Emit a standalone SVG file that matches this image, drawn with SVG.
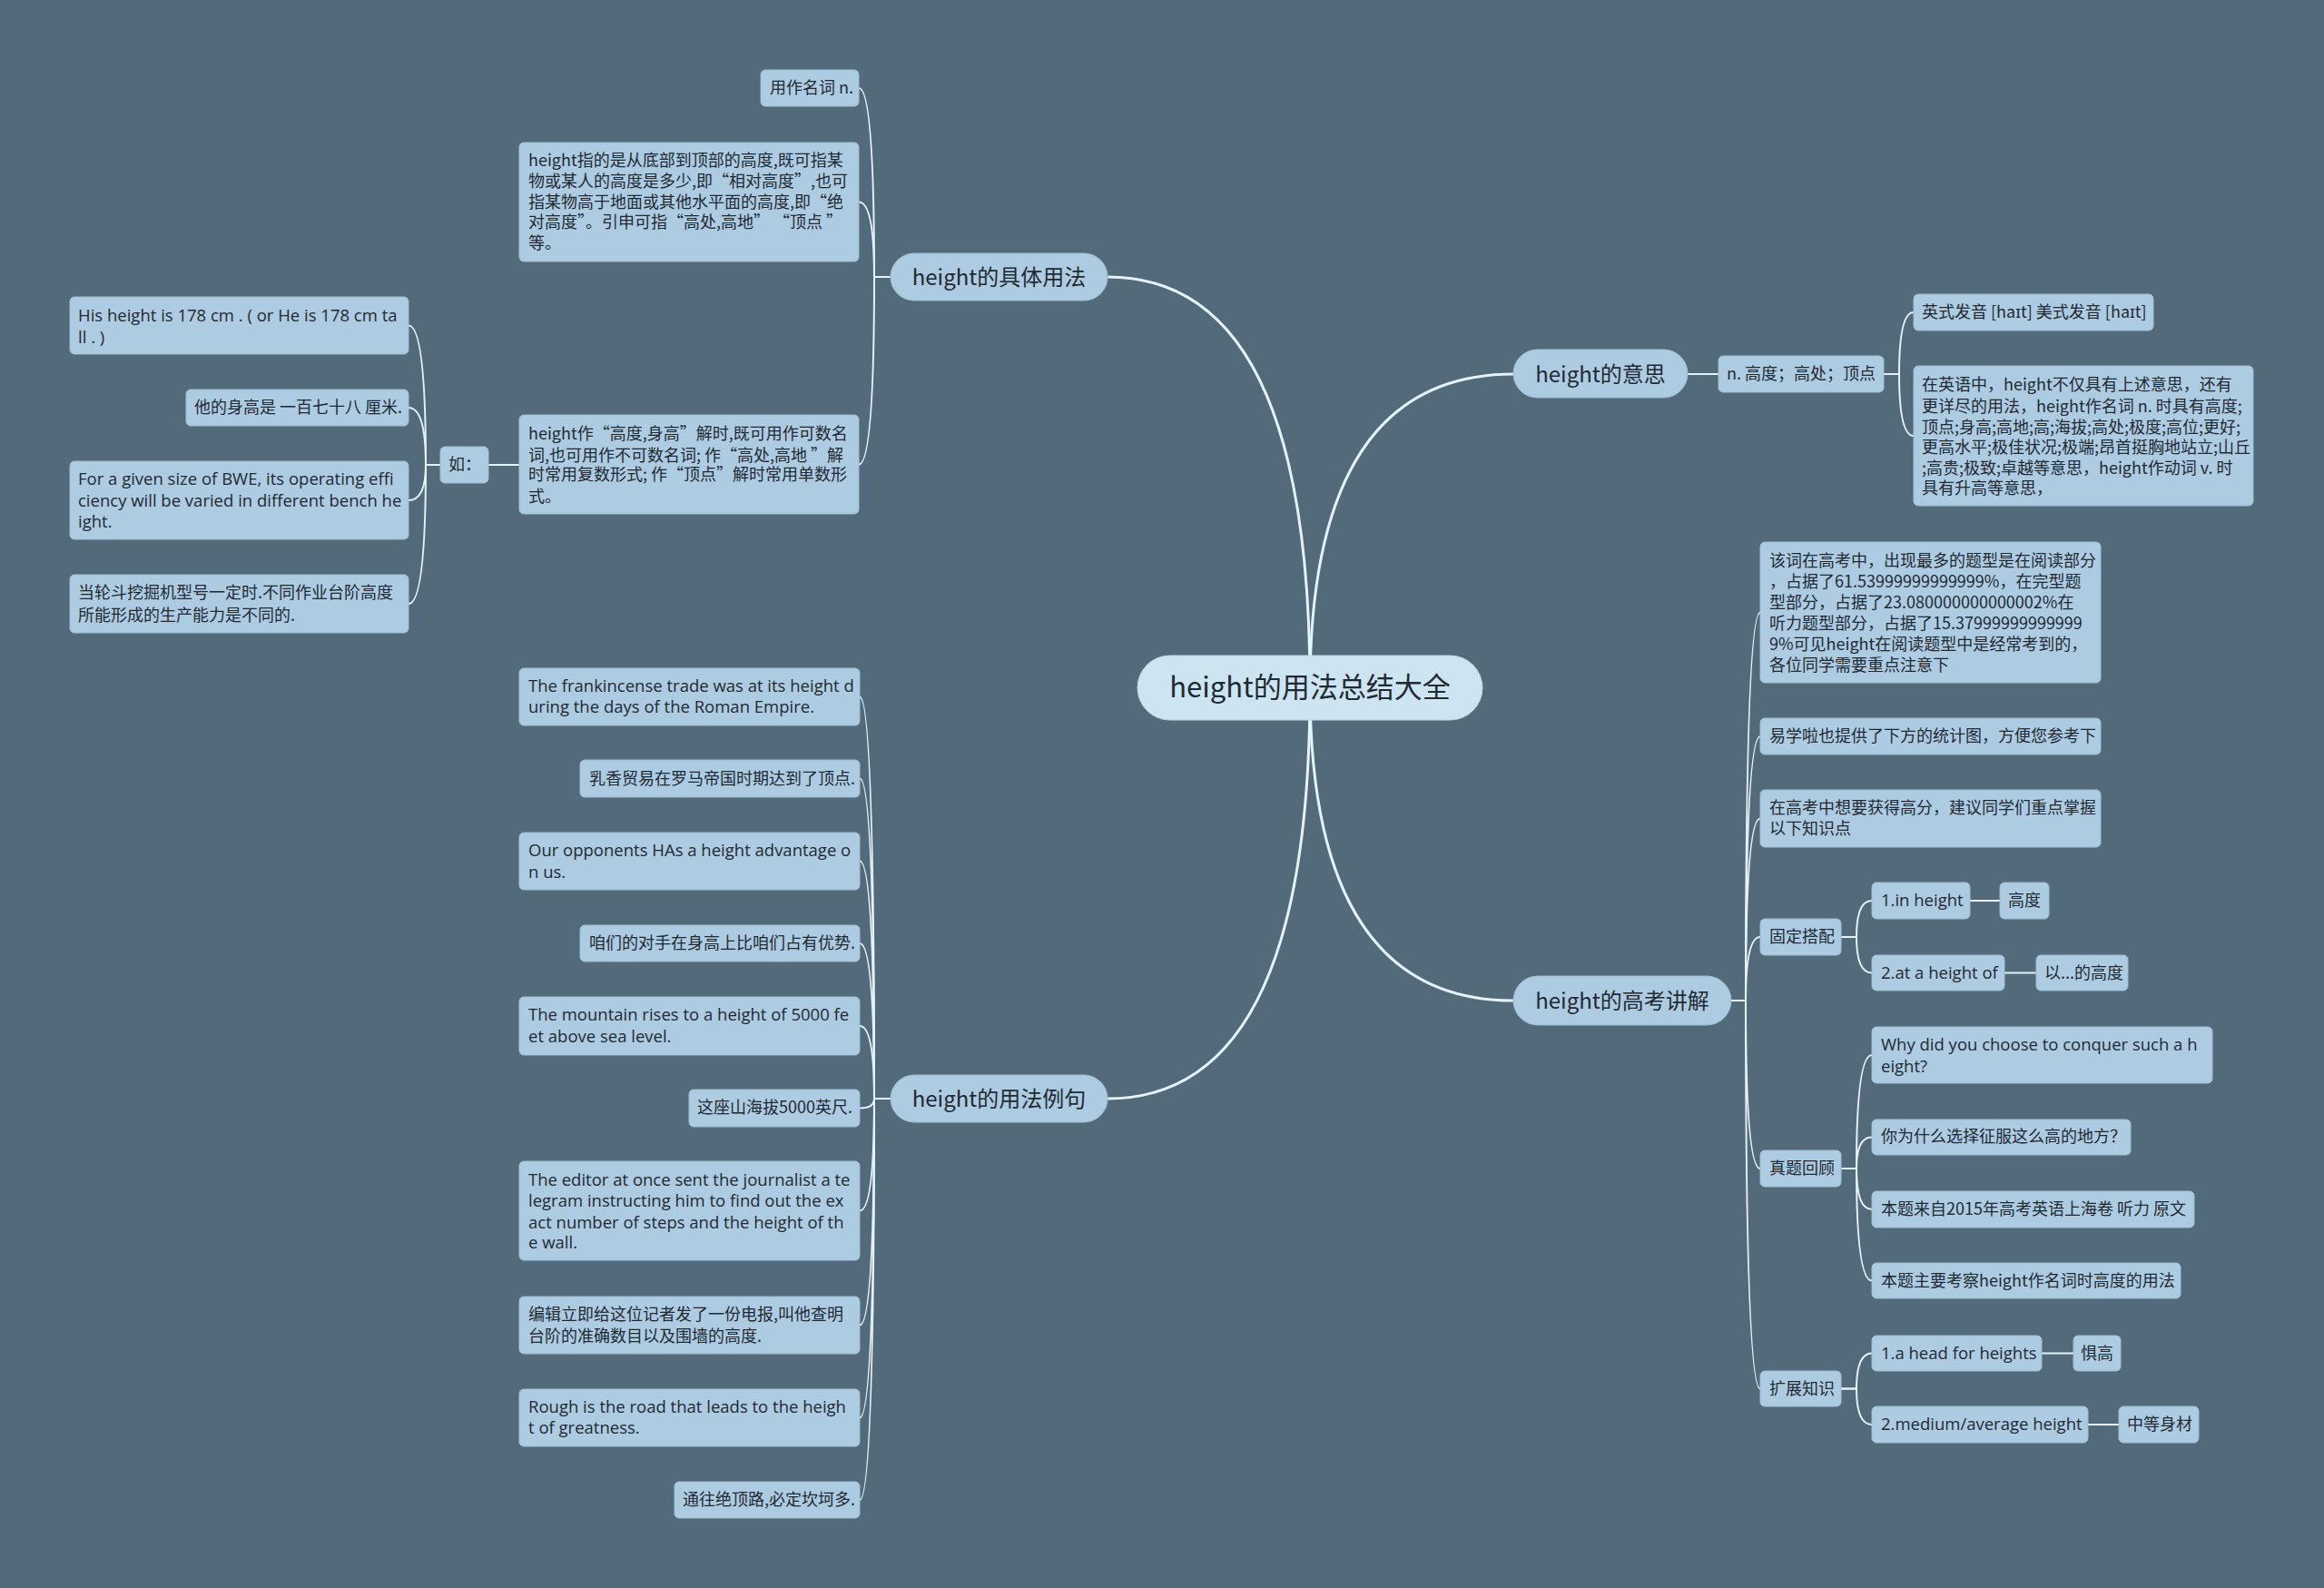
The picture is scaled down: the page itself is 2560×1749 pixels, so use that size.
<svg xmlns="http://www.w3.org/2000/svg" width="2560" height="1749" viewBox="0 0 2560 1749">
<style>
.bg{fill:#536a7a}
.n rect{fill:#adcbe1;stroke:#9fbdd3;stroke-width:1}
.br rect{fill:#adcbe1;stroke:#9fbdd3;stroke-width:1}
.rt rect{fill:#cde4f1;stroke:#bcd6e6;stroke-width:1}
text{font-family:"Noto Sans CJK SC","Noto Sans",sans-serif;fill:#1f2a33}
.n text{font-size:18px}
.n text.l{font-family:"Open Sans","Noto Sans CJK SC",sans-serif;font-size:18.5px}
.br text{font-size:24px;text-anchor:middle}
.rt text{font-size:31px;text-anchor:middle}
.c{fill:none;stroke:#e4f2fa;stroke-width:2}
.m{fill:none;stroke:#e4f2fa;stroke-width:3}
</style>
<rect class="bg" x="0" y="0" width="2560" height="1749"/>
<g id="connectors">
<path class="m" d="M1443 757 Q1443 305 1220 305"/>
<path class="m" d="M1443 757 Q1443 1210 1220 1210"/>
<path class="m" d="M1443 757 Q1443 412 1667 412"/>
<path class="m" d="M1443 757 Q1443 1102 1667 1102"/>
<path class="c" d="M981 305 L963 305 Q963 97 946 97"/>
<path class="c" d="M981 305 L963 305 Q963 222.5 946 222.5"/>
<path class="c" d="M981 305 L963 305 Q963 511.5 946 511.5"/>
<path class="c" d="M572 512 L538 512"/>
<path class="c" d="M485 512 L469 512 Q469 358.5 450 358.5"/>
<path class="c" d="M485 512 L469 512 Q469 449 450 449"/>
<path class="c" d="M485 512 L469 512 Q469 551 450 551"/>
<path class="c" d="M485 512 L469 512 Q469 665 450 665"/>
<path class="c" d="M981 1210 L963 1210 Q963 767.5 947 767.5"/>
<path class="c" d="M981 1210 L963 1210 Q963 857.5 947 857.5"/>
<path class="c" d="M981 1210 L963 1210 Q963 948.5 947 948.5"/>
<path class="c" d="M981 1210 L963 1210 Q963 1039 947 1039"/>
<path class="c" d="M981 1210 L963 1210 Q963 1130 947 1130"/>
<path class="c" d="M981 1210 L963 1210 Q963 1220.5 947 1220.5"/>
<path class="c" d="M981 1210 L963 1210 Q963 1333.5 947 1333.5"/>
<path class="c" d="M981 1210 L963 1210 Q963 1459.5 947 1459.5"/>
<path class="c" d="M981 1210 L963 1210 Q963 1561.5 947 1561.5"/>
<path class="c" d="M981 1210 L963 1210 Q963 1652 947 1652"/>
<path class="c" d="M1859 412 L1893 412"/>
<path class="c" d="M2075 412 L2092 412 Q2092 344 2108 344"/>
<path class="c" d="M2075 412 L2092 412 Q2092 480 2108 480"/>
<path class="c" d="M1907 1102 L1923 1102 Q1923 674.5 1939 674.5"/>
<path class="c" d="M1907 1102 L1923 1102 Q1923 811 1939 811"/>
<path class="c" d="M1907 1102 L1923 1102 Q1923 901.5 1939 901.5"/>
<path class="c" d="M1907 1102 L1923 1102 Q1923 1032 1939 1032"/>
<path class="c" d="M1907 1102 L1923 1102 Q1923 1287 1939 1287"/>
<path class="c" d="M1907 1102 L1923 1102 Q1923 1529.5 1939 1529.5"/>
<path class="c" d="M2028 1032 L2045 1032 Q2045 992 2062 992"/>
<path class="c" d="M2028 1032 L2045 1032 Q2045 1071.5 2062 1071.5"/>
<path class="c" d="M2028 1287 L2045 1287 Q2045 1162 2062 1162"/>
<path class="c" d="M2028 1287 L2045 1287 Q2045 1252.5 2062 1252.5"/>
<path class="c" d="M2028 1287 L2045 1287 Q2045 1332 2062 1332"/>
<path class="c" d="M2028 1287 L2045 1287 Q2045 1410.5 2062 1410.5"/>
<path class="c" d="M2028 1529.5 L2045 1529.5 Q2045 1490.5 2062 1490.5"/>
<path class="c" d="M2028 1529.5 L2045 1529.5 Q2045 1569 2062 1569"/>
<path class="c" d="M2170 992 L2203 992"/>
<path class="c" d="M2208 1071.5 L2243 1071.5"/>
<path class="c" d="M2249 1490.5 L2284 1490.5"/>
<path class="c" d="M2300 1569 L2334 1569"/>
</g>
<g id="root" class="rt"><rect x="1253" y="722" width="380" height="71" rx="35.5"/><text x="1443" y="768">height的用法总结大全</text></g>
<g id="b1" class="br"><rect x="981" y="279" width="239" height="52" rx="26"/><text x="1100.5" y="313.5">height的具体用法</text></g>
<g id="b4" class="br"><rect x="981" y="1184" width="239" height="52" rx="26"/><text x="1100.5" y="1218.5">height的用法例句</text></g>
<g id="b2" class="br"><rect x="1667" y="385" width="192" height="53" rx="26.5"/><text x="1763" y="420.5">height的意思</text></g>
<g id="b3" class="br"><rect x="1667" y="1075" width="240" height="54" rx="27"/><text x="1787" y="1110.5">height的高考讲解</text></g>
<g id="n1" class="n"><rect x="838" y="77" width="108" height="40" rx="5"/><text x="848" y="103">用作名词 n.</text></g>
<g id="n2" class="n"><rect x="572" y="157" width="374" height="131" rx="5"/><text x="582" y="183">height指的是从底部到顶部的高度,既可指某</text><text x="582" y="206">物或某人的高度是多少,即“相对高度”,也可</text><text x="582" y="229">指某物高于地面或其他水平面的高度,即“绝</text><text x="582" y="251">对高度”。引申可指“高处,高地” “顶点 ”</text><text x="582" y="274">等。</text></g>
<g id="n3" class="n"><rect x="572" y="457" width="374" height="109" rx="5"/><text x="582" y="484">height作“高度,身高”解时,既可用作可数名</text><text x="582" y="508">词,也可用作不可数名词; 作“高处,高地 ”解</text><text x="582" y="529">时常用复数形式; 作“顶点”解时常用单数形</text><text x="582" y="553">式。</text></g>
<g id="n4" class="n"><rect x="485" y="492" width="53" height="40" rx="5"/><text x="494" y="518">如：</text></g>
<g id="n5" class="n"><rect x="77" y="327" width="373" height="63" rx="5"/><text class="l" x="86" y="354">His height is 178 cm . ( or He is 178 cm ta</text><text class="l" x="86" y="378">ll . )</text></g>
<g id="n6" class="n"><rect x="205" y="429" width="245" height="40" rx="5"/><text x="214" y="455">他的身高是 一百七十八 厘米.</text></g>
<g id="n7" class="n"><rect x="77" y="508" width="373" height="86" rx="5"/><text class="l" x="86" y="534">For a given size of BWE, its operating effi</text><text class="l" x="86" y="558">ciency will be varied in different bench he</text><text class="l" x="86" y="581">ight.</text></g>
<g id="n8" class="n"><rect x="77" y="633" width="373" height="64" rx="5"/><text x="86" y="659">当轮斗挖掘机型号一定时.不同作业台阶高度</text><text x="86" y="684">所能形成的生产能力是不同的.</text></g>
<g id="e1" class="n"><rect x="572" y="736" width="375" height="63" rx="5"/><text class="l" x="582" y="762">The frankincense trade was at its height d</text><text class="l" x="582" y="785">uring the days of the Roman Empire.</text></g>
<g id="e2" class="n"><rect x="639" y="837" width="308" height="41" rx="5"/><text x="649" y="864">乳香贸易在罗马帝国时期达到了顶点.</text></g>
<g id="e3" class="n"><rect x="572" y="917" width="375" height="63" rx="5"/><text class="l" x="582" y="943">Our opponents HAs a height advantage o</text><text class="l" x="582" y="967">n us.</text></g>
<g id="e4" class="n"><rect x="639" y="1019" width="308" height="40" rx="5"/><text x="649" y="1045">咱们的对手在身高上比咱们占有优势.</text></g>
<g id="e5" class="n"><rect x="572" y="1098" width="375" height="64" rx="5"/><text class="l" x="582" y="1124">The mountain rises to a height of 5000 fe</text><text class="l" x="582" y="1148">et above sea level.</text></g>
<g id="e6" class="n"><rect x="759" y="1200" width="188" height="41" rx="5"/><text x="768" y="1226">这座山海拔5000英尺.</text></g>
<g id="e7" class="n"><rect x="572" y="1279" width="375" height="109" rx="5"/><text class="l" x="582" y="1306">The editor at once sent the journalist a te</text><text class="l" x="582" y="1329">legram instructing him to find out the ex</text><text class="l" x="582" y="1353">act number of steps and the height of th</text><text class="l" x="582" y="1375">e wall.</text></g>
<g id="e8" class="n"><rect x="572" y="1428" width="375" height="63" rx="5"/><text x="582" y="1454">编辑立即给这位记者发了一份电报,叫他查明</text><text x="582" y="1478">台阶的准确数目以及围墙的高度.</text></g>
<g id="e9" class="n"><rect x="572" y="1530" width="375" height="63" rx="5"/><text class="l" x="582" y="1556">Rough is the road that leads to the heigh</text><text class="l" x="582" y="1579">t of greatness.</text></g>
<g id="e10" class="n"><rect x="743" y="1632" width="204" height="40" rx="5"/><text x="752" y="1658">通往绝顶路,必定坎坷多.</text></g>
<g id="m1" class="n"><rect x="1893" y="392" width="182" height="40" rx="5"/><text x="1902" y="418">n. 高度；高处；顶点</text></g>
<g id="m2" class="n"><rect x="2108" y="324" width="264" height="40" rx="5"/><text x="2117" y="350">英式发音 [haɪt] 美式发音 [haɪt]</text></g>
<g id="m3" class="n"><rect x="2108" y="403" width="374" height="154" rx="5"/><text x="2117" y="430">在英语中，height不仅具有上述意思，还有</text><text x="2117" y="454">更详尽的用法，height作名词 n. 时具有高度;</text><text x="2117" y="477">顶点;身高;高地;高;海拔;高处;极度;高位;更好;</text><text x="2117" y="499">更高水平;极佳状况;极端;昂首挺胸地站立;山丘</text><text x="2117" y="522">;高贵;极致;卓越等意思，height作动词 v. 时</text><text x="2117" y="544">具有升高等意思，</text></g>
<g id="k1" class="n"><rect x="1939" y="597" width="375" height="155" rx="5"/><text x="1949" y="624">该词在高考中，出现最多的题型是在阅读部分</text><text x="1949" y="647">，占据了61.53999999999999%，在完型题</text><text x="1949" y="670">型部分，占据了23.080000000000002%在</text><text x="1949" y="693">听力题型部分，占据了15.37999999999999</text><text x="1949" y="716">9%可见height在阅读题型中是经常考到的，</text><text x="1949" y="739">各位同学需要重点注意下</text></g>
<g id="k2" class="n"><rect x="1939" y="791" width="375" height="40" rx="5"/><text x="1949" y="817">易学啦也提供了下方的统计图，方便您参考下</text></g>
<g id="k3" class="n"><rect x="1939" y="870" width="375" height="63" rx="5"/><text x="1949" y="896">在高考中想要获得高分，建议同学们重点掌握</text><text x="1949" y="919">以下知识点</text></g>
<g id="k4" class="n"><rect x="1939" y="1012" width="89" height="40" rx="5"/><text x="1949" y="1038">固定搭配</text></g>
<g id="k5" class="n"><rect x="2062" y="972" width="108" height="40" rx="5"/><text class="l" x="2072" y="998">1.in height</text></g>
<g id="k6" class="n"><rect x="2203" y="972" width="54" height="40" rx="5"/><text x="2212" y="998">高度</text></g>
<g id="k7" class="n"><rect x="2062" y="1052" width="146" height="39" rx="5"/><text class="l" x="2072" y="1078">2.at a height of</text></g>
<g id="k8" class="n"><rect x="2243" y="1052" width="101" height="39" rx="5"/><text x="2252" y="1078">以...的高度</text></g>
<g id="k9" class="n"><rect x="1939" y="1267" width="89" height="40" rx="5"/><text x="1949" y="1293">真题回顾</text></g>
<g id="k10" class="n"><rect x="2062" y="1131" width="375" height="62" rx="5"/><text class="l" x="2072" y="1157">Why did you choose to conquer such a h</text><text class="l" x="2072" y="1181">eight?</text></g>
<g id="k11" class="n"><rect x="2062" y="1233" width="285" height="39" rx="5"/><text x="2072" y="1258">你为什么选择征服这么高的地方？</text></g>
<g id="k12" class="n"><rect x="2062" y="1312" width="355" height="40" rx="5"/><text x="2072" y="1338">本题来自2015年高考英语上海卷 听力 原文</text></g>
<g id="k13" class="n"><rect x="2062" y="1391" width="340" height="39" rx="5"/><text x="2072" y="1417">本题主要考察height作名词时高度的用法</text></g>
<g id="k14" class="n"><rect x="1939" y="1510" width="89" height="39" rx="5"/><text x="1949" y="1536">扩展知识</text></g>
<g id="k15" class="n"><rect x="2062" y="1471" width="187" height="39" rx="5"/><text class="l" x="2072" y="1497">1.a head for heights</text></g>
<g id="k16" class="n"><rect x="2284" y="1471" width="52" height="39" rx="5"/><text x="2292" y="1497">惧高</text></g>
<g id="k17" class="n"><rect x="2062" y="1549" width="238" height="40" rx="5"/><text class="l" x="2072" y="1575">2.medium/average height</text></g>
<g id="k18" class="n"><rect x="2334" y="1549" width="88" height="40" rx="5"/><text x="2343" y="1575">中等身材</text></g>
</svg>
